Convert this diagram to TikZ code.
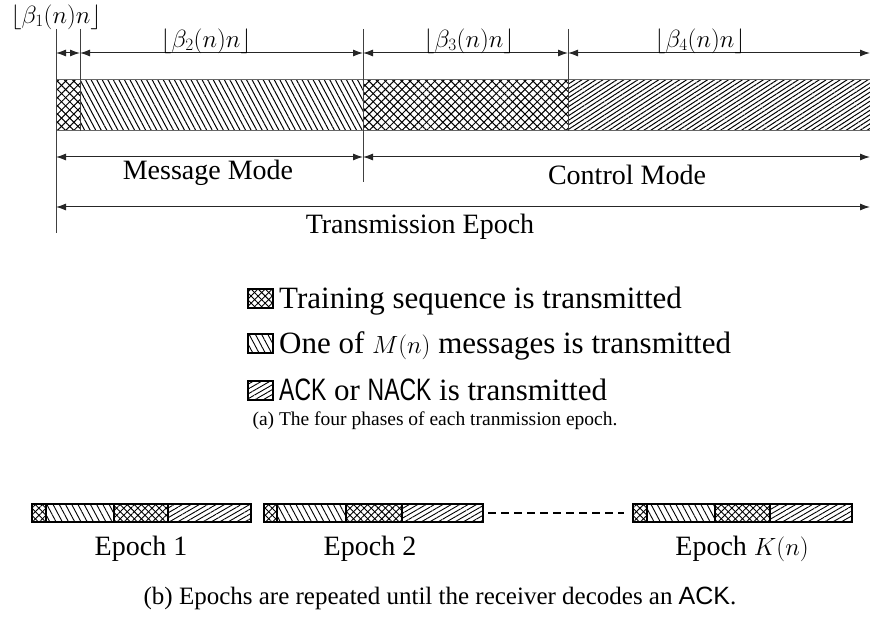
\documentclass[tikz,border=0pt]{standalone}
\usepackage[no-math]{fontspec}
\setmainfont{Liberation Serif}
\setsansfont{Liberation Sans}
\usetikzlibrary{patterns.meta,arrows.meta}
\newcommand\narrowsf[1]{\scalebox{0.74}[1]{\textsf{#1}}}
\begin{document}
\begin{tikzpicture}[x=1pt,y=-1pt,
  dim/.style={{Latex[length=10pt,width=7pt]}-{Latex[length=10pt,width=7pt]}, line width=1pt, draw=black!85},
  guide/.style={line width=1pt, draw=black!75},
  edgeline/.style={line width=1pt, draw=black!60},
  boxline/.style={line width=1.2pt, draw=black},
  txt/.style={font=\fontsize{28}{32}\selectfont, inner sep=0pt},
  legtxt/.style={font=\fontsize{31}{35}\selectfont, inner sep=0pt, anchor=base west},
  lab/.style={font=\fontsize{26.5}{30}\selectfont, inner sep=0pt},
  capa/.style={font=\fontsize{19.5}{23}\selectfont, inner sep=0pt},
  capb/.style={font=\fontsize{25}{29}\selectfont, inner sep=0pt},
  ne1/.style={pattern={Lines[angle=45,distance=5.8pt,line width=1pt]}},
  nw1/.style={pattern={Lines[angle=-45,distance=5.8pt,line width=1pt]}},
  msgbig/.style={pattern={Lines[angle=-62,distance=4.9pt,line width=1pt]}},
  ackbig/.style={pattern={Lines[angle=33,distance=3.8pt,line width=1pt]}},
  ne2/.style={pattern={Lines[angle=45,distance=5pt,line width=0.9pt]}},
  nw2/.style={pattern={Lines[angle=-45,distance=5pt,line width=0.9pt]}},
  msgsm/.style={pattern={Lines[angle=-62,distance=5.5pt,line width=0.9pt]}},
  acksm/.style={pattern={Lines[angle=30,distance=4.2pt,line width=0.9pt]}}
]
\useasboundingbox (0,0) rectangle (870,639);

% ---------- top bar ----------
\path[ne1] (56,80) rectangle (80,131);
\path[nw1] (56,80) rectangle (80,131);
\path[msgbig] (80,80) rectangle (363,131);
\path[ne1] (363,80) rectangle (568,131);
\path[nw1] (363,80) rectangle (568,131);
\path[ackbig] (568,80) rectangle (880,131);
\draw[edgeline] (56,80) -- (880,80);
\draw[edgeline] (56,131) -- (880,131);

% guide lines
\coordinate (g1t) at (56,29);  \coordinate (g1b) at (56,233);
\coordinate (g2t) at (80,29);  \coordinate (g2b) at (80,131);
\coordinate (g3t) at (363,29); \coordinate (g3b) at (363,182);
\coordinate (g4t) at (568,29); \coordinate (g4b) at (568,131);
\draw[guide] (g1t) -- (g1b);
\draw[guide] (g2t) -- (g2b);
\draw[guide] (g3t) -- (g3b);
\draw[guide] (g4t) -- (g4b);

% dimension arrows
\coordinate (d0) at (56,53);
\coordinate (d1) at (80,53);
\coordinate (d2) at (363,53);
\coordinate (d3) at (568,53);
\coordinate (d4) at (870,53);
\draw[dim] (d0) -- (d1);
\draw[dim] (d1) -- (d2);
\draw[dim] (d2) -- (d3);
\draw[dim] (d3) -- (d4);

\coordinate (m0) at (56,157);
\coordinate (m1) at (363,157);
\coordinate (m2) at (870,157);
\draw[dim] (m0) -- (m1);
\draw[dim] (m1) -- (m2);

\coordinate (t0) at (56,207);
\coordinate (t1) at (870,207);
\draw[dim] (t0) -- (t1);

% labels
\node[lab] (b1) at (56,17) {$\lfloor\beta_1(n)n\rfloor$};
\node[lab] (b2) at (206,41) {$\lfloor\beta_2(n)n\rfloor$};
\node[lab] (b3) at (469,41) {$\lfloor\beta_3(n)n\rfloor$};
\node[lab] (b4) at (700,41) {$\lfloor\beta_4(n)n\rfloor$};

\node[txt] (mm) at (208,173) {Message Mode};
\node[txt] (cm) at (627,175) {Control Mode};
\node[txt] (te) at (420,227) {Transmission Epoch};

% ---------- legend ----------
\path[ne2] (248,289) rectangle (273,308);
\path[nw2] (248,289) rectangle (273,308);
\draw[boxline] (248,289) rectangle (273,308);
\node[legtxt] (l1) at (279,308) {Training sequence is transmitted};

\path[msgsm] (248,334) rectangle (273,353);
\draw[boxline] (248,334) rectangle (273,353);
\node[legtxt] (l2) at (279,353) {One of $M(n)$ messages is transmitted};

\path[acksm] (248,381) rectangle (273,400);
\draw[boxline] (248,381) rectangle (273,400);
\node[legtxt] (l3) at (279,400) {\narrowsf{ACK} or \narrowsf{NACK} is transmitted};

\node[capa] (ca) at (435,421) {(a) The four phases of each tranmission epoch.};

% ---------- bottom row ----------
% epoch 1
\path[ne2] (32,504) rectangle (46,522);
\path[nw2] (32,504) rectangle (46,522);
\path[msgsm] (46,504) rectangle (114,522);
\path[ne2] (114,504) rectangle (168,522);
\path[nw2] (114,504) rectangle (168,522);
\path[acksm] (168,504) rectangle (251,522);
\draw[boxline] (32,504) rectangle (251,522);
\draw[boxline] (46,504) -- (46,522) (114,504) -- (114,522) (168,504) -- (168,522);
% epoch 2
\path[ne2] (264,504) rectangle (277,522);
\path[nw2] (264,504) rectangle (277,522);
\path[msgsm] (277,504) rectangle (346,522);
\path[ne2] (346,504) rectangle (402,522);
\path[nw2] (346,504) rectangle (402,522);
\path[acksm] (402,504) rectangle (483,522);
\draw[boxline] (264,504) rectangle (483,522);
\draw[boxline] (277,504) -- (277,522) (346,504) -- (346,522) (402,504) -- (402,522);
% epoch K(n)
\path[ne2] (633,504) rectangle (647,522);
\path[nw2] (633,504) rectangle (647,522);
\path[msgsm] (647,504) rectangle (715,522);
\path[ne2] (715,504) rectangle (770,522);
\path[nw2] (715,504) rectangle (770,522);
\path[acksm] (770,504) rectangle (852,522);
\draw[boxline] (633,504) rectangle (852,522);
\draw[boxline] (647,504) -- (647,522) (715,504) -- (715,522) (770,504) -- (770,522);

\coordinate (ds0) at (488,513);
\coordinate (ds1) at (624,513);
\draw[line width=1.2pt, dash pattern=on 8pt off 5pt] (ds0) -- (ds1);

\node[txt] (e1) at (141,549) {Epoch 1};
\node[txt] (e2) at (370,549) {Epoch 2};
\node[txt] (e3) at (742,549) {Epoch $K(n)$};

\node[capb] (cb) at (440,598) {(b) Epochs are repeated until the receiver decodes an \textsf{ACK}.};
\end{tikzpicture}
\end{document}
